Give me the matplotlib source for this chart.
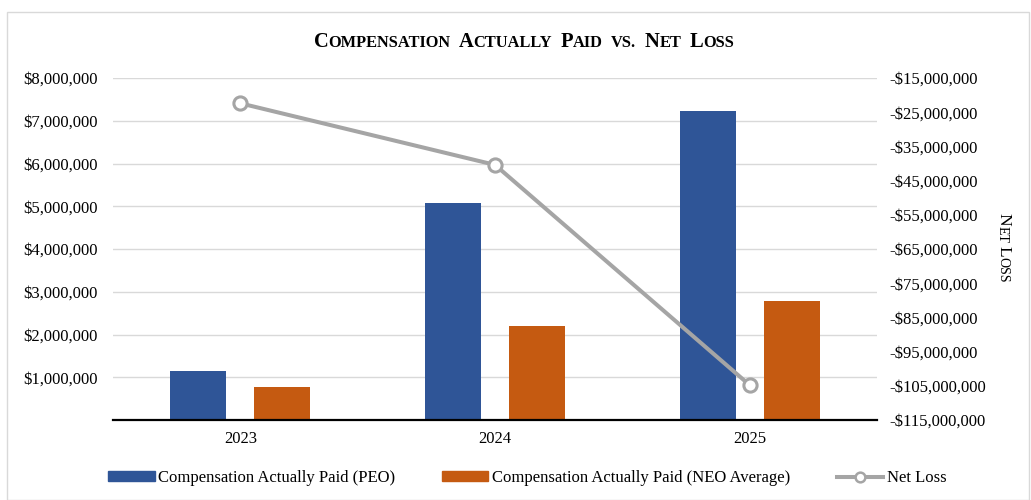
import matplotlib
matplotlib.use("Agg")
import matplotlib.pyplot as plt
import numpy as np
from matplotlib.offsetbox import TextArea, HPacker, AnchoredOffsetbox
from matplotlib.patches import Rectangle
from matplotlib.lines import Line2D
from matplotlib.ticker import FuncFormatter, FixedLocator

years = ["2023", "2024", "2025"]
cap_peo = [1153000, 5080000, 7230000]
cap_neo = [765000, 2210000, 2780000]
net_loss = [-22400000, -40400000, -104800000]
series_labels = ["Compensation Actually Paid (PEO)",
                 "Compensation Actually Paid (NEO Average)",
                 "Net Loss"]
left_ticks = [1000000, 2000000, 3000000, 4000000, 5000000, 6000000, 7000000, 8000000]
right_ticks = [-115000000, -105000000, -95000000, -85000000, -75000000, -65000000,
               -55000000, -45000000, -35000000, -25000000, -15000000]

BLUE = "#2F5597"
ORANGE = "#C55A11"
GRAY = "#A5A5A5"
GRID = "#D9D9D9"
SERIF = "Liberation Serif"
FS = 12

plt.rcParams["font.family"] = [SERIF, "DejaVu Serif"]

fig = plt.figure(figsize=(10.31, 5.0), dpi=100)
ax = fig.add_axes([113 / 1031, 80 / 500, 764 / 1031, 342 / 500])
ax2 = ax.twinx()

x = np.arange(len(years))
bw = 0.22
off = 0.165
ax.bar(x - off, cap_peo, width=bw, color=BLUE, zorder=3)
ax.bar(x + off, cap_neo, width=bw, color=ORANGE, zorder=3)
ax.set_xlim(-0.5, 2.5)
ax.set_ylim(0, 8000000)
ax.yaxis.set_major_locator(FixedLocator(left_ticks))
ax.yaxis.set_major_formatter(FuncFormatter(lambda v, p: "${:,.0f}".format(v)))
ax.grid(axis="y", color=GRID, linewidth=1.0, zorder=0)
ax.set_axisbelow(True)
ax.set_xticks(x)
ax.set_xticklabels(years)
ax.tick_params(axis="x", length=0, pad=8, labelsize=FS)
ax.tick_params(axis="y", length=0, pad=11, labelsize=FS)
for s in ["top", "right", "left"]:
    ax.spines[s].set_visible(False)
ax.spines["bottom"].set_color("black")
ax.spines["bottom"].set_linewidth(1.6)
ax.spines["bottom"].set_zorder(5)

ax2.plot(x, net_loss, color=GRAY, linewidth=2.9, marker="o", markersize=9.5,
         markerfacecolor="white", markeredgecolor=GRAY, markeredgewidth=2.2,
         zorder=4, solid_capstyle="round")
ax2.set_ylim(-115000000, -15000000)
ax2.yaxis.set_major_locator(FixedLocator(right_ticks))
ax2.yaxis.set_major_formatter(FuncFormatter(lambda v, p: "-${:,.0f}".format(abs(v))))
ax2.tick_params(axis="y", length=0, pad=9, labelsize=FS)
for s in ["top", "right", "left", "bottom"]:
    ax2.spines[s].set_visible(False)


def small_caps_parts(text):
    parts = []
    for i, word in enumerate(text.split(" ")):
        if i > 0:
            parts.append(("\u00a0", "s"))
        if word.lower() == "vs.":
            parts.append(("VS.", "s"))
            continue
        parts.append((word[0], "b"))
        if len(word) > 1:
            parts.append((word[1:].upper(), "s"))
    return parts


def small_caps(text, big, small, bold=False):
    boxes = []
    for t, k in small_caps_parts(text):
        if t == "\u00a0":
            t = "\u00a0\u00a0"
        boxes.append(TextArea(t, textprops=dict(fontsize=big if k == "b" else small,
                                                fontweight="bold" if bold else "normal",
                                                family=SERIF, color="black")))
    return HPacker(children=boxes, align="baseline", pad=0, sep=0)


title_box = small_caps("Compensation Actually Paid vs. Net Loss", 14.8, 11.8, bold=True)
ab = AnchoredOffsetbox(loc="center", child=title_box, frameon=False,
                       bbox_to_anchor=(524 / 1031, 1 - 42 / 500),
                       bbox_transform=fig.transFigure, pad=0, borderpad=0)
fig.add_artist(ab)

# Rotated right axis label "NET LOSS" in small caps, placed piece by piece (reads top to bottom)
renderer = fig.canvas.get_renderer()
pieces = small_caps_parts("Net Loss")
sizes = {"b": 12.5, "s": 10}
lengths = []
for t, k in pieces:
    tt = fig.text(0, 0, t, fontsize=sizes[k], family=SERIF)
    bb = tt.get_window_extent(renderer)
    lengths.append(bb.width)
    tt.remove()
total = sum(lengths)
cur = 500 - 248 + total / 2  # pixel y from bottom (start of text)
for (t, k), L in zip(pieces, lengths):
    fig.text(999 / 1031, cur / 500, t, rotation=270,
             fontsize=sizes[k], family=SERIF, ha="left", va="baseline",
             rotation_mode="anchor", transform=fig.transFigure)
    cur -= L

handles = [Rectangle((0, 0), 1, 1, color=BLUE),
           Rectangle((0, 0), 1, 1, color=ORANGE),
           Line2D([0], [0], color=GRAY, linewidth=2.9, marker="o", markersize=7,
                  markerfacecolor="white", markeredgecolor=GRAY, markeredgewidth=1.8)]
fig.legend(handles, series_labels, loc="center", bbox_to_anchor=(527 / 1031, 1 - 478 / 500),
           ncol=3, frameon=False, fontsize=FS, handlelength=2.8, handleheight=0.5,
           handletextpad=0.2, columnspacing=2.8)

fig.add_artist(Rectangle((7 / 1031, 0.0), 1 - 9 / 1031, 1 - 12 / 500, transform=fig.transFigure,
                         fill=False, edgecolor="#D9D9D9", linewidth=1.0))

fig.savefig("out.png", dpi=100, facecolor="white")
